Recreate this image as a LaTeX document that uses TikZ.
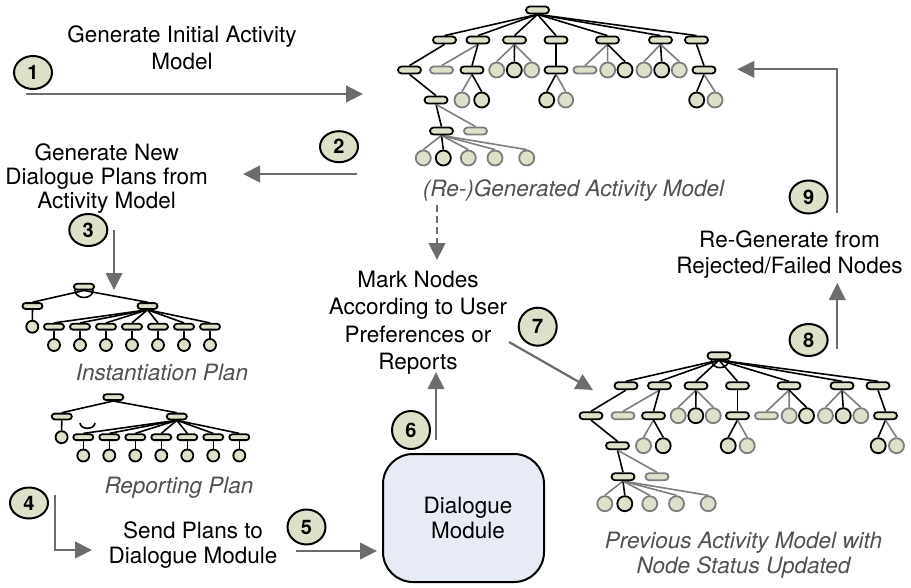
\documentclass[tikz,border=0pt]{standalone}
\usepackage{fontspec}
\setmainfont{TeX Gyre Heros}
\usetikzlibrary{arrows.meta,shapes.geometric}
\pgfdeclarelayer{paper}
\pgfdeclarelayer{edges}
\pgfsetlayers{paper,edges,main}

\definecolor{leaf}{RGB}{222,224,202}
\definecolor{faded}{RGB}{125,125,125}
\definecolor{flow}{RGB}{108,108,108}
\definecolor{caption}{RGB}{80,80,80}
\definecolor{module}{RGB}{230,235,246}

\tikzset{
  pill/.style={draw=black, fill=leaf, line width=1.8pt, rounded corners=3.5pt,
    minimum width=23pt, minimum height=7pt, inner sep=0pt},
  pillg/.style={pill, draw=faded},
  ball/.style={circle, draw=black, fill=leaf, line width=1.8pt, minimum size=15pt, inner sep=0pt},
  ballg/.style={ball, draw=faded},
  spill/.style={pill, minimum width=20pt, minimum height=5.8pt, rounded corners=2.9pt},
  sball/.style={ball, minimum size=12pt},
  eb/.style={line width=1.6pt, draw=black},
  eg/.style={line width=1.6pt, draw=faded},
  flowarrow/.style={draw=flow, line width=2.2pt, -{Triangle[length=17pt,width=16.5pt]}},
  num/.style={ellipse, draw=black, fill=leaf, line width=2pt, minimum width=38pt,
    minimum height=32pt, inner sep=0pt, font=\fontsize{20}{20}\selectfont\bfseries},
  lbl/.style={anchor=base, inner sep=0pt, font=\fontsize{22.5}{27}\selectfont},
  captext/.style={lbl, text=caption, font=\fontsize{22.5}{27}\selectfont\itshape},
}

% activity model tree; #1 = name prefix
\newcommand\actmodel[1]{%
  \node[pill]  (#1r)  at (537.5,10) {};
  \node[pill]  (#1A)  at (444.5,40) {};
  \node[pill]  (#1B)  at (478,40) {};
  \node[pill]  (#1C)  at (514.5,40) {};
  \node[pill]  (#1D)  at (556,40) {};
  \node[pill]  (#1E)  at (607.5,40) {};
  \node[pill]  (#1F)  at (660.5,40) {};
  \node[pill]  (#1G)  at (696.5,40) {};
  \node[pill]  (#1A1) at (409.5,70) {};
  \node[pillg] (#1B1) at (441.5,70) {};
  \node[pill]  (#1B2) at (472,70) {};
  \node[ballg] (#1C1) at (496.7,70) {};
  \node[ball]  (#1C2) at (514.3,70) {};
  \node[ballg] (#1C3) at (531.7,70) {};
  \node[pill]  (#1D1) at (556,70) {};
  \node[pillg] (#1E1) at (585,70) {};
  \node[ballg] (#1E2) at (607.7,70) {};
  \node[ball]  (#1E3) at (625,70) {};
  \node[ballg] (#1F1) at (644,70) {};
  \node[ball]  (#1F2) at (661.7,70) {};
  \node[ballg] (#1F3) at (679.3,70) {};
  \node[pill]  (#1G1) at (704,70) {};
  \node[pill]  (#1H)  at (436,100) {};
  \node[ballg] (#1B2a) at (462,100) {};
  \node[ball]  (#1B2b) at (481.7,100) {};
  \node[ball]  (#1D1a) at (546.7,100) {};
  \node[ballg] (#1D1b) at (565.7,100) {};
  \node[ball]  (#1G1a) at (696.7,100) {};
  \node[ballg] (#1G1b) at (715,100) {};
  \node[pill]  (#1K)  at (441.5,131) {};
  \node[pillg] (#1K2) at (475.5,131) {};
  \node[ballg] (#1L1) at (423.3,158) {};
  \node[ball]  (#1L2) at (443.3,158) {};
  \node[ballg] (#1L3) at (468.3,158) {};
  \node[ballg] (#1L4) at (495,158) {};
  \node[ballg] (#1L5) at (526.7,158) {};
  \begin{pgfonlayer}{edges}
    \foreach \c in {A,B,C,D,E,F,G} \draw[eb] (#1r.south) -- (#1\c.north);
    \draw[eb] (#1A.south) -- (#1A1.north);
    \draw[eg] (#1B.south) -- (#1B1.north);
    \draw[eb] (#1B.south) -- (#1B2.north);
    \draw[eg] (#1C.south) -- (#1C1.north);
    \draw[eb] (#1C.south) -- (#1C2.north);
    \draw[eg] (#1C.south) -- (#1C3.north);
    \draw[eb] (#1D.south) -- (#1D1.north);
    \draw[eg] (#1E.south) -- (#1E1.north);
    \draw[eg] (#1E.south) -- (#1E2.north);
    \draw[eb] (#1E.south) -- (#1E3.north);
    \draw[eg] (#1F.south) -- (#1F1.north);
    \draw[eb] (#1F.south) -- (#1F2.north);
    \draw[eg] (#1F.south) -- (#1F3.north);
    \draw[eb] (#1G.south) -- (#1G1.north);
    \draw[eb] (#1A1.south) -- (#1H.north);
    \draw[eg] (#1B2.south) -- (#1B2a.north);
    \draw[eb] (#1B2.south) -- (#1B2b.north);
    \draw[eb] (#1D1.south) -- (#1D1a.north);
    \draw[eg] (#1D1.south) -- (#1D1b.north);
    \draw[eb] (#1G1.south) -- (#1G1a.north);
    \draw[eg] (#1G1.south) -- (#1G1b.north);
    \draw[eb] (#1H.south) -- (#1K.north);
    \draw[eg] (#1H.south) -- (#1K2.north);
    \draw[eg] (#1K.south) -- (#1L1.north);
    \draw[eb] (#1K.south) -- (#1L2.north);
    \draw[eg] (#1K.south) -- (#1L3.north);
    \draw[eg] (#1K.south) -- (#1L4.north);
    \draw[eg] (#1K.south) -- (#1L5.north);
  \end{pgfonlayer}
}

% dialogue plan tree; #1 = name prefix
\newcommand\planshape[1]{%
  \node[spill] (#1r) at (84,286.7) {};
  \node[spill] (#1L) at (32.5,306) {};
  \node[spill] (#1R) at (147.5,306) {};
  \node[sball] (#1Lc) at (32.3,326.7) {};
  \foreach \k in {0,...,6} {
    \node[spill] (#1p\k) at ({54+26*\k},326.7) {};
    \node[sball] (#1c\k) at ({54+26*\k},345) {};
  }
  \begin{pgfonlayer}{edges}
    \draw[eb] (#1r.south) -- (#1L.north);
    \draw[eb] (#1r.south) -- (#1R.north);
    \draw[eb] (#1L.south) -- (#1Lc.north);
    \foreach \k in {0,...,6} {
      \draw[eb] (#1R.south) -- (#1p\k.north);
      \draw[eb] (#1p\k.south) -- (#1c\k.north);
    }
  \end{pgfonlayer}
}

\begin{document}
\begin{tikzpicture}[x=1pt, y=-1pt]
  \begin{pgfonlayer}{paper}
    \fill[white] (0,0) rectangle (911,587);
  \end{pgfonlayer}
  \useasboundingbox (0,0) rectangle (911,587);

  % regenerated activity model (top) and the previous one (bottom right)
  \actmodel{tm}
  \begin{scope}[shift={(181.5,345.7)}]
    \actmodel{pm}
    \draw[eb] (530,14.3) .. controls (530,24.5) and (547,24.5) .. (547,14.3);
  \end{scope}

  % instantiation plan and reporting plan
  \planshape{ip}
  \draw[eb] (75,290) .. controls (75,300) and (93,300) .. (93,290);
  \begin{scope}[shift={(29.3,110.5)}]
    \planshape{rp}
  \end{scope}
  \draw[eb] (80,423) .. controls (80.5,430) and (94.5,430) .. (95,423);

  % dialogue module
  \node[draw=black, fill=module, line width=2pt, rounded corners=30pt,
        minimum width=161pt, minimum height=128pt, inner sep=0pt] (dm) at (463.5,518) {};
  \node[lbl] (dmA) at (468,513) {Dialogue};
  \node[lbl] (dmB) at (468,538) {Module};

  % step labels
  \node[lbl] (g1a) at (182,42.2) {Generate Initial Activity};
  \node[lbl] (g1b) at (182,69.5) {Model};
  \node[lbl] (g2a) at (106.7,160.2) {Generate New};
  \node[lbl] (g2b) at (106.7,184.5) {Dialogue Plans from};
  \node[lbl] (g2c) at (106.7,208.9) {Activity Model};
  \node[lbl] (mk1) at (418,287) {Mark Nodes};
  \node[lbl] (mk2) at (418,314.5) {According to User};
  \node[lbl] (mk3) at (418,342) {Preferences or};
  \node[lbl] (mk4) at (418,369) {Reports};
  \node[lbl] (rg1) at (789.5,247) {Re-Generate from};
  \node[lbl] (rg2) at (789.5,273.5) {Rejected/Failed Nodes};
  \node[lbl] (sp1) at (193,538.5) {Send Plans to};
  \node[lbl] (sp2) at (193,563.5) {Dialogue Module};

  % captions
  \node[captext] (c1) at (573.5,196.5) {(Re-)Generated Activity Model};
  \node[captext] (c2) at (162,380) {Instantiation Plan};
  \node[captext] (c3) at (179,493) {Reporting Plan};
  \node[captext] (c4a) at (743.5,548) {Previous Activity Model with};
  \node[captext] (c4b) at (743.5,573) {Node Status Updated};

  % step numbers
  \node[num, minimum height=33pt] (n1) at (33,72.5) {1};
  \node[num, minimum height=31pt] (n2) at (339,146.7) {2};
  \node[num, minimum height=32pt] (n3) at (88.3,230) {3};
  \node[num, minimum height=31pt] (n4) at (29,503) {4};
  \node[num, minimum height=35pt] (n5) at (306.5,527) {5};
  \node[num, minimum height=38pt] (n6) at (411,430) {6};
  \node[num, minimum height=38pt] (n7) at (537.7,326.7) {7};
  \node[num, minimum height=32pt] (n8) at (808.6,340) {8};
  \node[num, minimum height=33pt] (n9) at (808.6,197) {9};

  % flow arrows
  \coordinate (a1s) at (26,94);   \coordinate (a1e) at (363,94);
  \coordinate (a2s) at (357,174); \coordinate (a2e) at (243,174);
  \coordinate (a3s) at (114,230); \coordinate (a3e) at (114,290);
  \coordinate (a4s) at (55,495);  \coordinate (a4e) at (92,550);
  \coordinate (a5s) at (296,551); \coordinate (a5e) at (377,551);
  \coordinate (a6s) at (436,440); \coordinate (a6e) at (436,372);
  \coordinate (ads) at (437,205); \coordinate (ade) at (437,260);
  \coordinate (a7s) at (509,342); \coordinate (a7e) at (593,390);
  \coordinate (a8s) at (837.3,349); \coordinate (a8e) at (837.3,283);
  \coordinate (a9s) at (837.3,213); \coordinate (a9e) at (737.3,69.3);

  \draw[flowarrow] (a1s) -- (a1e);
  \draw[flowarrow] (a2s) -- (a2e);
  \draw[flowarrow] (a3s) -- (a3e);
  \draw[flowarrow] (a4s) |- (a4e);
  \draw[flowarrow] (a5s) -- (a5e);
  \draw[flowarrow] (a6s) -- (a6e);
  \draw[flowarrow, dash pattern=on 7pt off 4pt] (ads) -- (ade);
  \draw[flowarrow] (a7s) -- (a7e);
  \draw[flowarrow] (a8s) -- (a8e);
  \draw[flowarrow] (a9s) |- (a9e);
\end{tikzpicture}
\end{document}
